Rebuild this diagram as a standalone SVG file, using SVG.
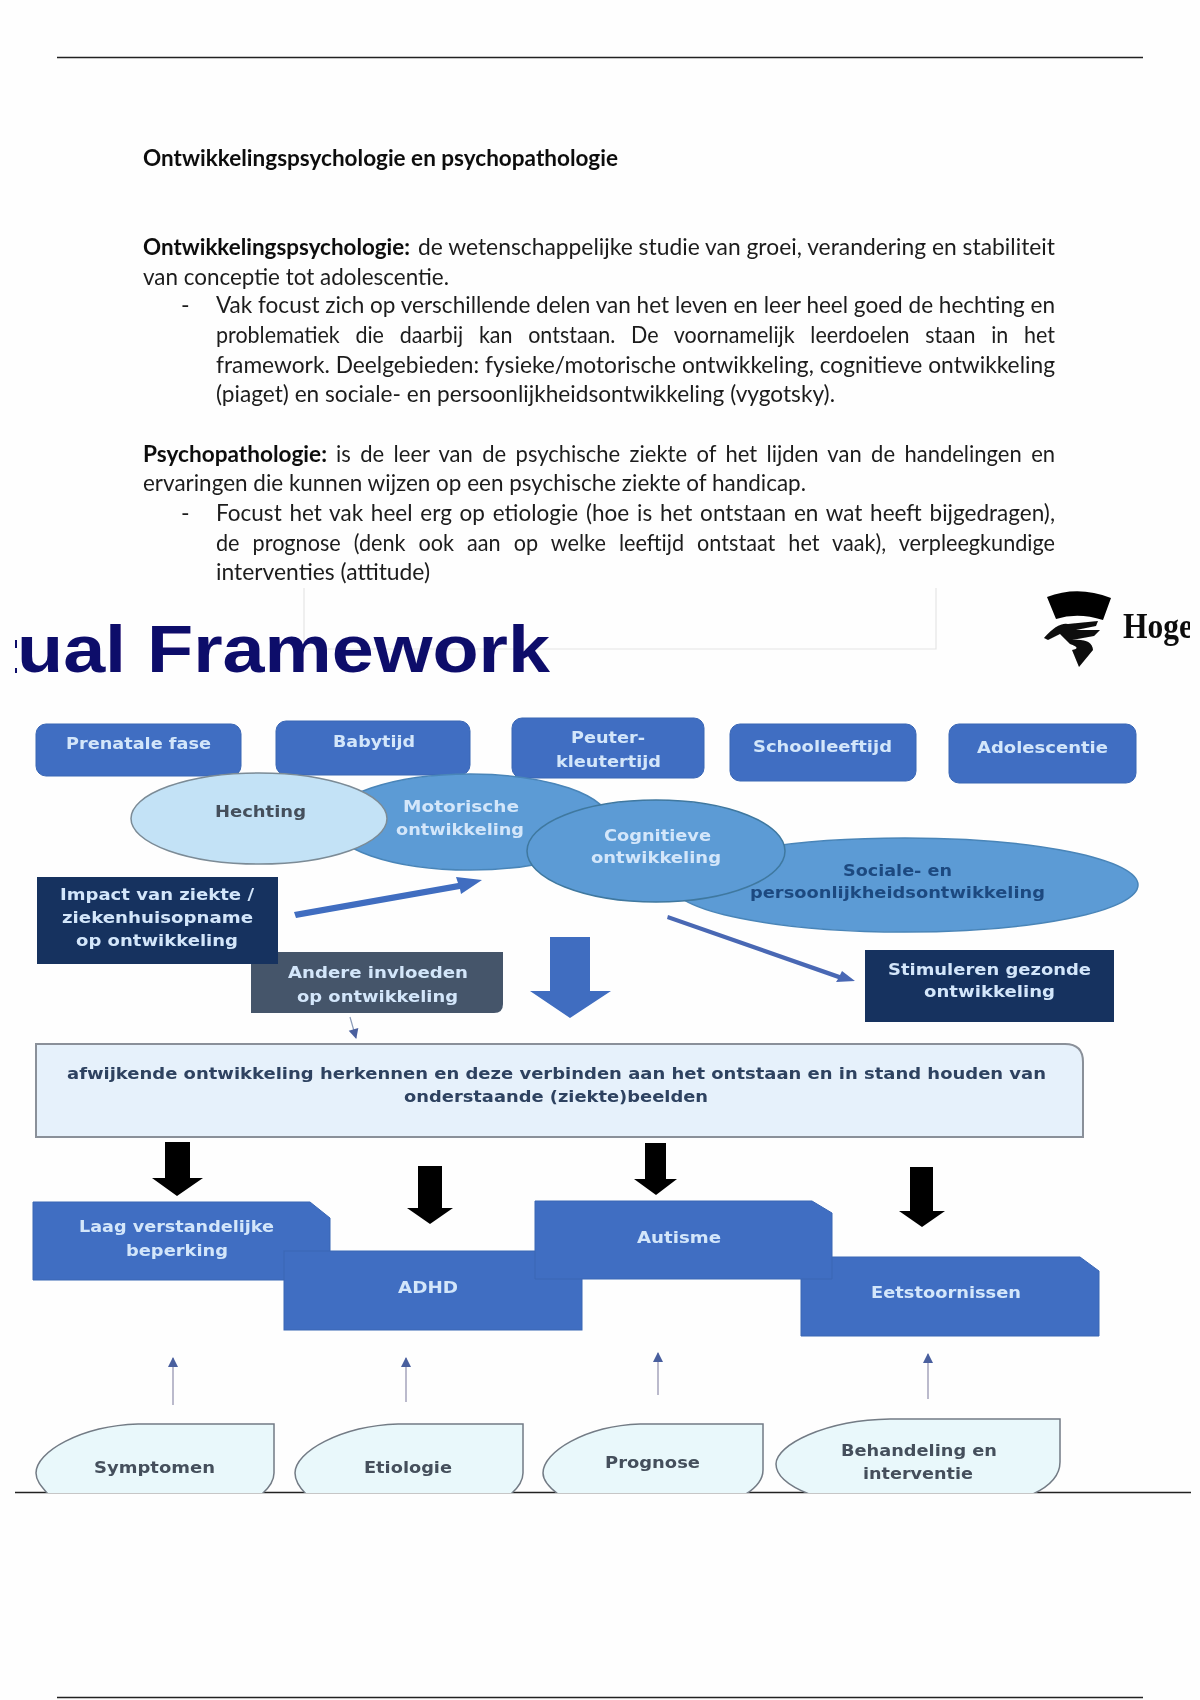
<svg xmlns="http://www.w3.org/2000/svg" width="1200" height="1700" viewBox="0 0 1200 1700">
<defs>
<filter id="soft" x="-5%" y="-20%" width="110%" height="140%"><feGaussianBlur stdDeviation="0.7"/></filter>
<clipPath id="pic"><rect x="15" y="585" width="1175" height="908"/></clipPath>
<marker id="thin" markerWidth="12" markerHeight="12" refX="10" refY="6" orient="auto" markerUnits="userSpaceOnUse"><path d="M1,1 L11,6 L1,11 Z" fill="#4a5f9e"/></marker>
</defs>
<style>
.body{font-family:"Lato","Liberation Sans",sans-serif;font-size:23px;fill:#1c1c1c}
.b{font-weight:700;fill:#111}
.t{font-family:"DejaVu Sans",sans-serif;font-weight:700;font-size:15px}
.lt{fill:#d3e6fa}
.dk{fill:#2d4260}
.gr{fill:#44505c}
.blue{fill:#3f6ec2;stroke:#3a66b4;stroke-width:1}
.navy{fill:#14305f}
.rule{stroke:#222;stroke-width:1.6;fill:none}
.tag{fill:#e9f8fb;stroke:#737b85;stroke-width:1.5}
.blk{fill:#050505}
.bl2{fill:#3f6dc0}
</style>
<rect width="1200" height="1700" fill="#fefefe"/>
<line class="rule" x1="57" y1="57.500" x2="1143" y2="57.500"/>
<line class="rule" x1="57" y1="1697.500" x2="1143" y2="1697.500"/>
<line class="rule" x1="15" y1="1492.500" x2="1191" y2="1492.500"/>

<g id="document-text" filter="url(#soft)">
<text class="body b" x="143" y="166" textLength="475" lengthAdjust="spacingAndGlyphs">Ontwikkelingspsychologie en psychopathologie</text>
<text class="body b" x="143" y="255" textLength="267" lengthAdjust="spacingAndGlyphs">Ontwikkelingspsychologie:</text>
<text class="body" x="418" y="255" textLength="637" lengthAdjust="spacingAndGlyphs">de wetenschappelijke studie van groei, verandering en stabiliteit</text>
<text class="body" x="143" y="285" textLength="306" lengthAdjust="spacingAndGlyphs">van conceptie tot adolescentie.</text>
<text class="body" x="181" y="313">-</text>
<text class="body" x="216" y="313" textLength="839" lengthAdjust="spacingAndGlyphs">Vak focust zich op verschillende delen van het leven en leer heel goed de hechting en</text>
<text class="body" x="216" y="343" textLength="839" lengthAdjust="spacingAndGlyphs" word-spacing="11">problematiek die daarbij kan ontstaan. De voornamelijk leerdoelen staan in het</text>
<text class="body" x="216" y="373" textLength="839" lengthAdjust="spacingAndGlyphs">framework. Deelgebieden: fysieke/motorische ontwikkeling, cognitieve ontwikkeling</text>
<text class="body" x="216" y="402" textLength="619" lengthAdjust="spacingAndGlyphs">(piaget) en sociale- en persoonlijkheidsontwikkeling (vygotsky).</text>
<text class="body b" x="143" y="462" textLength="184" lengthAdjust="spacingAndGlyphs">Psychopathologie:</text>
<text class="body" x="336" y="462" textLength="719" lengthAdjust="spacingAndGlyphs" word-spacing="4">is de leer van de psychische ziekte of het lijden van de handelingen en</text>
<text class="body" x="143" y="491" textLength="663" lengthAdjust="spacingAndGlyphs">ervaringen die kunnen wijzen op een psychische ziekte of handicap.</text>
<text class="body" x="181" y="521">-</text>
<text class="body" x="216" y="521" textLength="839" lengthAdjust="spacingAndGlyphs" word-spacing="2">Focust het vak heel erg op etiologie (hoe is het ontstaan en wat heeft bijgedragen),</text>
<text class="body" x="216" y="551" textLength="839" lengthAdjust="spacingAndGlyphs" word-spacing="8">de prognose (denk ook aan op welke leeftijd ontstaat het vaak), verpleegkundige</text>
<text class="body" x="216" y="580" textLength="214" lengthAdjust="spacingAndGlyphs">interventies (attitude)</text>
</g>

<g id="framework" clip-path="url(#pic)">
<path d="M304,588 V649 H936 V588" fill="none" stroke="#e4e4e4" stroke-width="1.2"/>
<g id="title" filter="url(#soft)">
<rect x="15" y="640" width="2" height="8" fill="#0f0a6b"/><rect x="15" y="668" width="2" height="5" fill="#0f0a6b"/>
<text x="17" y="672" font-family="Liberation Sans,sans-serif" font-weight="700" font-size="66" fill="#0f0a6b" textLength="533" lengthAdjust="spacingAndGlyphs">ual Framework</text>
</g>
<g id="logo" filter="url(#soft)">
<path d="M1047,597 Q1078,585 1111,598 L1103,620 Q1078,612 1056,619 Z" fill="#050505"/>
<path d="M1044,638 Q1058,622 1068,624 L1098,621 L1096,626 L1076,630 L1100,630 L1094,636 L1072,640 Q1092,638 1093,650 L1079,667 L1072,650 Q1082,648 1070,644 L1060,634 L1048,640 Z" fill="#0a0a0a"/>
<text x="1123" y="638" font-family="Liberation Serif,serif" font-weight="700" font-size="36" fill="#111" textLength="70" lengthAdjust="spacingAndGlyphs">Hoge</text>
</g>

<g id="connectors" filter="url(#soft)">
<path class="bl2" d="M294,912 L458,883 L456,877 L482,880 L461,894 L460,889 L296,918 Z"/>
<path fill="#4a68b4" d="M668,915 L840,975 L842,971 L855,981 L836,982 L838,979 L667,919 Z"/>
<path class="bl2" d="M550,937 H590 V991 H611 L570,1018 L530,991 H550 Z"/>
<line x1="350" y1="1017" x2="356" y2="1038" stroke="#8a9bb8" stroke-width="1.2" marker-end="url(#thin)"/>
<path class="blk" d="M165,1142 H190 V1178 H203 L177,1196 L152,1178 H165 Z"/>
<path class="blk" d="M418,1166 H442 V1208 H453 L430,1224 L407,1208 H418 Z"/>
<path class="blk" d="M645,1143 H666 V1179 H677 L656,1195 L634,1179 H645 Z"/>
<path class="blk" d="M910,1167 H933 V1211 H945 L922,1227 L899,1211 H910 Z"/>
<line x1="173" y1="1405" x2="173" y2="1358" stroke="#a5a3bb" stroke-width="1.5" marker-end="url(#thin)"/>
<line x1="406" y1="1402" x2="406" y2="1358" stroke="#a5a3bb" stroke-width="1.5" marker-end="url(#thin)"/>
<line x1="658" y1="1395" x2="658" y2="1353" stroke="#a5a3bb" stroke-width="1.5" marker-end="url(#thin)"/>
<line x1="928" y1="1399" x2="928" y2="1354" stroke="#a5a3bb" stroke-width="1.5" marker-end="url(#thin)"/>
</g>

<g filter="url(#soft)">
<g id="prenatale"><rect class="blue" x="36" y="724" width="205" height="52" rx="10"/><text class="t lt" x="66" y="749" textLength="145" lengthAdjust="spacingAndGlyphs">Prenatale fase</text></g>
<g id="babytijd"><rect class="blue" x="276" y="721" width="194" height="54" rx="10"/><text class="t lt" x="333" y="747" textLength="82" lengthAdjust="spacingAndGlyphs">Babytijd</text></g>
<g id="peuter"><rect class="blue" x="512" y="718" width="192" height="60" rx="10"/><text class="t lt" x="571" y="743" textLength="74" lengthAdjust="spacingAndGlyphs">Peuter-</text><text class="t lt" x="556" y="767" textLength="105" lengthAdjust="spacingAndGlyphs">kleutertijd</text></g>
<g id="school"><rect class="blue" x="730" y="724" width="186" height="57" rx="10"/><text class="t lt" x="753" y="752" textLength="139" lengthAdjust="spacingAndGlyphs">Schoolleeftijd</text></g>
<g id="adolescentie"><rect class="blue" x="949" y="724" width="187" height="59" rx="10"/><text class="t lt" x="977" y="753" textLength="131" lengthAdjust="spacingAndGlyphs">Adolescentie</text></g>

<g id="motorisch"><ellipse cx="470" cy="822" rx="140" ry="48" fill="#5b9bd5" stroke="#4a85b8" stroke-width="1.5"/><text class="t lt" x="403" y="812" textLength="116" lengthAdjust="spacingAndGlyphs">Motorische</text><text class="t lt" x="396" y="835" textLength="128" lengthAdjust="spacingAndGlyphs">ontwikkeling</text></g>
<g id="hechting"><ellipse cx="259" cy="818.500" rx="128" ry="45.500" fill="#c3e2f6" stroke="#7b8b96" stroke-width="1.5"/><text class="t gr" x="215" y="817" textLength="91" lengthAdjust="spacingAndGlyphs">Hechting</text></g>
<g id="sociale"><ellipse cx="905" cy="885" rx="233" ry="47" fill="#5b9bd5" stroke="#4a85b8" stroke-width="1.5"/><text class="t" fill="#1f4a80" x="843" y="876" textLength="109" lengthAdjust="spacingAndGlyphs">Sociale- en</text><text class="t" fill="#1f4a80" x="750" y="898" textLength="295" lengthAdjust="spacingAndGlyphs">persoonlijkheidsontwikkeling</text></g>
<g id="cognitief"><ellipse cx="656" cy="851" rx="129" ry="51" fill="#5b9bd5" stroke="#3f789f" stroke-width="1.5"/><text class="t lt" x="604" y="841" textLength="107" lengthAdjust="spacingAndGlyphs">Cognitieve</text><text class="t lt" x="591" y="863" textLength="130" lengthAdjust="spacingAndGlyphs">ontwikkeling</text></g>

<g id="andere"><path fill="#44546a" d="M251,952 H503 V1004 Q503,1013 494,1013 H251 Z"/><text class="t lt" x="288" y="978" textLength="180" lengthAdjust="spacingAndGlyphs">Andere invloeden</text><text class="t lt" x="297" y="1002" textLength="161" lengthAdjust="spacingAndGlyphs">op ontwikkeling</text></g>
<g id="impact"><rect class="navy" x="37" y="877" width="241" height="87"/><text class="t lt" x="60" y="900" textLength="194" lengthAdjust="spacingAndGlyphs">Impact van ziekte /</text><text class="t lt" x="62" y="923" textLength="191" lengthAdjust="spacingAndGlyphs">ziekenhuisopname</text><text class="t lt" x="76" y="946" textLength="162" lengthAdjust="spacingAndGlyphs">op ontwikkeling</text></g>
<g id="stimuleren"><rect class="navy" x="865" y="950" width="249" height="72"/><text class="t lt" x="888" y="975" textLength="203" lengthAdjust="spacingAndGlyphs">Stimuleren gezonde</text><text class="t lt" x="924" y="997" textLength="131" lengthAdjust="spacingAndGlyphs">ontwikkeling</text></g>

<g id="herkennen"><path d="M36,1044 H1065 Q1083,1044 1083,1062 V1137 H36 Z" fill="#e6f1fb" stroke="#8a9099" stroke-width="2"/><text class="t dk" x="67" y="1079" textLength="979" lengthAdjust="spacingAndGlyphs">afwijkende ontwikkeling herkennen en deze verbinden aan het ontstaan en in stand houden van</text><text class="t dk" x="404" y="1102" textLength="304" lengthAdjust="spacingAndGlyphs">onderstaande (ziekte)beelden</text></g>

<g id="laag"><path class="blue" d="M33,1202 H310 L330,1218 V1280 H33 Z"/><text class="t lt" x="79" y="1232" textLength="195" lengthAdjust="spacingAndGlyphs">Laag verstandelijke</text><text class="t lt" x="126" y="1256" textLength="102" lengthAdjust="spacingAndGlyphs">beperking</text></g>
<g id="adhd"><rect class="blue" x="284" y="1251" width="298" height="79"/><text class="t lt" x="398" y="1293" textLength="60" lengthAdjust="spacingAndGlyphs">ADHD</text></g>
<g id="eetstoornissen"><path class="blue" d="M801,1257 H1080 L1099,1271 V1336 H801 Z"/><text class="t lt" x="871" y="1298" textLength="150" lengthAdjust="spacingAndGlyphs">Eetstoornissen</text></g>
<g id="autisme"><path class="blue" d="M535,1201 H812 L832,1213 V1279 H535 Z"/><text class="t lt" x="637" y="1243" textLength="84" lengthAdjust="spacingAndGlyphs">Autisme</text></g>

<g id="symptomen"><path class="tag" d="M274,1424 H138 C80,1426 36,1452 36,1473 C36,1481 42,1487 48,1494 H262 C270,1487 274,1480 274,1473 Z"/><text class="t gr" x="94" y="1473" textLength="121" lengthAdjust="spacingAndGlyphs">Symptomen</text></g>
<g id="etiologie"><path class="tag" d="M523,1424 H398 C340,1426 295,1452 295,1473 C295,1481 299,1487 306,1494 H511 C519,1487 523,1480 523,1473 Z"/><text class="t gr" x="364" y="1473" textLength="88" lengthAdjust="spacingAndGlyphs">Etiologie</text></g>
<g id="prognose"><path class="tag" d="M763,1424 H640 C585,1426 543,1452 543,1473 C543,1481 550,1488 558,1494 H746 C757,1487 763,1480 763,1470 Z"/><text class="t gr" x="605" y="1468" textLength="95" lengthAdjust="spacingAndGlyphs">Prognose</text></g>
<g id="behandeling"><path class="tag" d="M1060,1419 H890 C825,1420 776,1445 776,1464 C776,1476 789,1486 809,1494 H1033 C1050,1486 1060,1475 1060,1462 Z"/><text class="t gr" x="841" y="1456" textLength="156" lengthAdjust="spacingAndGlyphs">Behandeling en</text><text class="t gr" x="863" y="1479" textLength="110" lengthAdjust="spacingAndGlyphs">interventie</text></g>
</g>
</g>
</svg>
